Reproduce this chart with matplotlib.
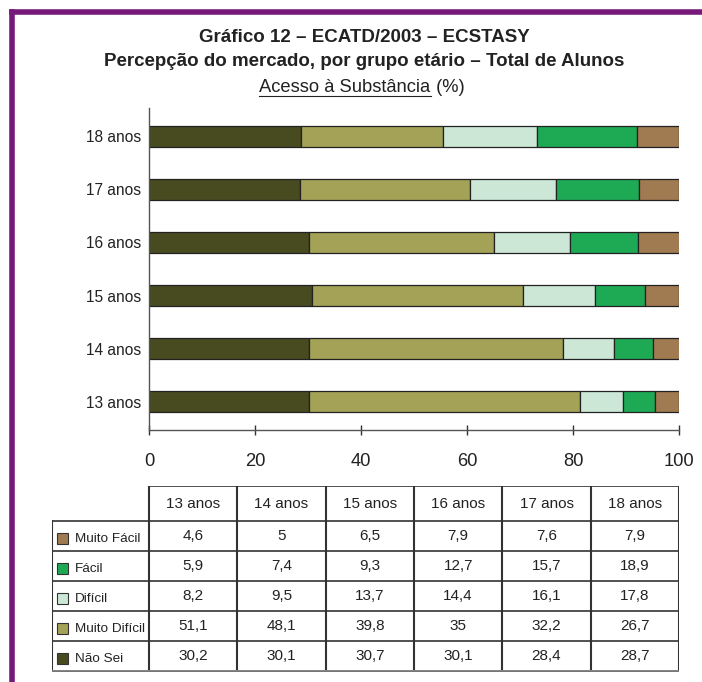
import matplotlib.pyplot as plt
from matplotlib.lines import Line2D
from matplotlib.patches import Rectangle

plt.rcParams['font.family'] = ['Liberation Sans', 'DejaVu Sans']

ages = ['13 anos', '14 anos', '15 anos', '16 anos', '17 anos', '18 anos']
categories = ['Não Sei', 'Muito Difícil', 'Difícil', 'Fácil', 'Muito Fácil']
nao_sei = [30.2, 30.1, 30.7, 30.1, 28.4, 28.7]
muito_dificil = [51.1, 48.1, 39.8, 35, 32.2, 26.7]
dificil = [8.2, 9.5, 13.7, 14.4, 16.1, 17.8]
facil = [5.9, 7.4, 9.3, 12.7, 15.7, 18.9]
muito_facil = [4.6, 5, 6.5, 7.9, 7.6, 7.9]
series = [nao_sei, muito_dificil, dificil, facil, muito_facil]
colors = ['#474b1f', '#a3a257', '#cce7d6', '#1eaa55', '#a07a50']
xticks = [0, 20, 40, 60, 80, 100]

W, H = 702, 682
fig = plt.figure(figsize=(W / 100, H / 100), dpi=100)

# purple frame (top + left)
fig.add_artist(Line2D([11.5 / W, 1], [1 - 11.5 / H] * 2, color='#76197b', lw=4))
fig.add_artist(Line2D([11.5 / W] * 2, [0, 1 - 11.5 / H], color='#76197b', lw=4))

# titles
cx = 364 / W
fig.text(cx, 1 - 37 / H, 'Gráfico 12 – ECATD/2003 – ECSTASY', ha='center', va='center',
         fontsize=13.5, fontweight='bold', color='#222')
fig.text(cx, 1 - 61 / H, 'Percepção do mercado, por grupo etário – Total de Alunos',
         ha='center', va='center', fontsize=13.5, fontweight='bold', color='#222')
t1 = fig.text(cx - 19 / W, 1 - 88 / H, 'Acesso à Substância', ha='center', va='center',
              fontsize=13.2, color='#222')
fig.canvas.draw()
bb = t1.get_window_extent()
fig.text(bb.x1 / W, 1 - 88 / H, ' (%)', ha='left', va='center', fontsize=13.2, color='#222')
fig.add_artist(Line2D([bb.x0 / W, bb.x1 / W], [(bb.y0 + 1) / H] * 2, color='#222', lw=0.8))

# bar chart
ax = fig.add_axes([149 / W, 1 - 430 / H, 530 / W, 322 / H])
left = [0] * len(ages)
for vals, col, name in zip(series, colors, categories):
    ax.barh(range(len(ages)), vals, left=left, height=0.4, color=col,
            edgecolor='#222', linewidth=0.9, label=name)
    left = [a + b for a, b in zip(left, vals)]
ax.set_xlim(0, 100)
ax.set_ylim(-0.53, 5.53)
ax.set_yticks(range(len(ages)), ages)
ax.set_xticks(xticks)
ax.tick_params(axis='y', length=0, pad=6, labelsize=11.2, labelcolor='#222')
ax.tick_params(axis='x', direction='inout', length=7, width=1, color='#333',
               pad=13, labelsize=13.2, labelcolor='#222')
for s in ['top', 'right']:
    ax.spines[s].set_visible(False)
for s in ['left', 'bottom']:
    ax.spines[s].set_color('#555')
    ax.spines[s].set_linewidth(1)

# data table
tax = fig.add_axes([52 / W, 1 - 672 / H, 627 / W, 186 / H])
tax.set_xlim(0, 627)
tax.set_ylim(186, 0)
tax.axis('off')
label_w, col_w, head_h, row_h = 97, 530 / 6, 35, 30
col_edges = [0, label_w] + [label_w + col_w * (i + 1) for i in range(len(ages))]
row_edges = [head_h + row_h * i for i in range(len(categories) + 1)]
lc = '#333'
tax.plot([label_w, 627], [0, 0], color=lc, lw=1.2)
for y in row_edges[:-1]:
    tax.plot([0, 627], [y, y], color=lc, lw=1.2)
tax.plot([0, 627], [row_edges[-1]] * 2, color='#777', lw=2)
tax.plot([0, 0], [head_h, row_edges[-1] - 2], color=lc, lw=1.5)
for x in col_edges[1:]:
    tax.plot([x, x], [0, row_edges[-1] - 2], color=lc, lw=1.5)

for j, age in enumerate(ages):
    xc = label_w + col_w * (j + 0.5)
    tax.text(xc, head_h / 2 + 1, age, ha='center', va='center', fontsize=11, color='#222')

table_rows = list(zip(categories, series, colors))[::-1]
for i, (name, vals, col) in enumerate(table_rows):
    yc = head_h + row_h * (i + 0.5)
    tax.add_patch(Rectangle((5, yc - 3.5), 11, 11, facecolor=col, edgecolor='#333', lw=0.8))
    tax.text(23, yc + 2.5, name, ha='left', va='center', fontsize=9.7, color='#222')
    for j, v in enumerate(vals):
        xc = label_w + col_w * (j + 0.5)
        txt = ('%g' % v).replace('.', ',')
        tax.text(xc, yc, txt, ha='center', va='center', fontsize=11, color='#222')

fig.savefig('out.png', dpi=100)
